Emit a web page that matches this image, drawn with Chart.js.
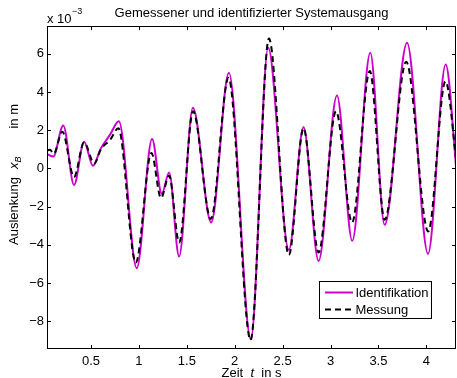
<!DOCTYPE html>
<html><head><meta charset="utf-8">
<script src="https://cdn.jsdelivr.net/npm/chart.js@4"></script>
<style>html,body{margin:0;padding:0;background:#fff;overflow:hidden}</style>
</head><body>
<canvas id="c" width="457" height="378"></canvas>
<script>
// ---- data (values in 1e-3 m) ----
const identT = [0.04,0.105,0.21,0.322,0.427,0.52,0.6,0.7,0.79,0.977,1.137,1.238,1.315,1.419,1.563,1.754,1.939,2.168,2.349,2.565,2.718,2.875,3.067,3.227,3.415,3.565,3.799,4.018,4.202,4.32];
const identV = [0.75,0.62,2.25,-0.87,1.40,0.14,1.02,1.78,2.47,-5.22,1.54,-1.33,-0.21,-4.61,3.17,-2.83,5.0,-8.95,6.31,-4.26,2.15,-4.84,3.81,-3.79,6.05,-2.95,6.58,-4.47,5.44,-0.42];
const messT = [0.04,0.07,0.11,0.2,0.322,0.427,0.534,0.6,0.7,0.785,0.967,1.13,1.23,1.315,1.42,1.565,1.75,1.935,2.165,2.357,2.565,2.718,2.875,3.057,3.225,3.41,3.565,3.79,4.02,4.2,4.32];
const messV = [0.94,0.97,0.77,1.92,-0.45,1.36,0.25,0.98,1.5,2.1,-4.93,0.81,-1.55,-0.38,-3.88,2.99,-2.65,4.74,-8.98,6.79,-4.53,2.1,-4.40,2.99,-2.83,5.09,-2.69,5.58,-3.30,4.56,0.1];
const xTickValues = [0.5,1,1.5,2,2.5,3,3.5,4];
const yTickValues = [-8,-6,-4,-2,0,2,4,6];
const seriesNames = ['Identifikation','Messung'];
const titleText = 'Gemessener und identifizierter Systemausgang';

const FONT = "'Liberation Sans', Arial, Helvetica, sans-serif";
Chart.defaults.font.family = FONT;
Chart.defaults.font.size = 13;
Chart.defaults.color = '#000';

const toPts = (t, v) => t.map((x, i) => ({x: x, y: v[i]}));
const fmt = v => { const r = Math.round(v * 10) / 10; return r < 0 ? '\u2212' + (-r) : String(r); };

const decor = {
  id: 'decor',
  afterDatasetsDraw(chart) {
    const ctx = chart.ctx, a = chart.chartArea;
    const xs = chart.scales.x, ys = chart.scales.y;
    ctx.save();
    ctx.strokeStyle = '#000';
    ctx.lineWidth = 1;
    ctx.strokeRect(a.left + 0.5, a.top + 0.5, a.right - a.left - 1, a.bottom - a.top - 1);
    ctx.beginPath();
    const tl = 4;
    xTickValues.forEach(v => {
      const px = Math.round(xs.getPixelForValue(v)) + 0.5;
      ctx.moveTo(px, a.bottom); ctx.lineTo(px, a.bottom - tl);
      ctx.moveTo(px, a.top); ctx.lineTo(px, a.top + tl);
    });
    yTickValues.forEach(v => {
      const py = Math.round(ys.getPixelForValue(v)) + 0.5;
      ctx.moveTo(a.left, py); ctx.lineTo(a.left + tl, py);
      ctx.moveTo(a.right, py); ctx.lineTo(a.right - tl, py);
    });
    ctx.stroke();

    // legend
    const lx = 319.5, ly = 281.5, lw = 112, lh = 37;
    ctx.fillStyle = '#fff';
    ctx.fillRect(lx, ly, lw, lh);
    ctx.strokeRect(lx, ly, lw, lh);
    ctx.lineWidth = 2;
    ctx.strokeStyle = '#CC00CC';
    ctx.beginPath(); ctx.moveTo(325, 292.5); ctx.lineTo(353, 292.5); ctx.stroke();
    ctx.strokeStyle = '#000';
    ctx.setLineDash([6, 4]);
    ctx.beginPath(); ctx.moveTo(325, 309.5); ctx.lineTo(353, 309.5); ctx.stroke();
    ctx.setLineDash([]);
    ctx.fillStyle = '#000';
    ctx.font = '13px ' + FONT;
    ctx.textAlign = 'left';
    ctx.textBaseline = 'alphabetic';
    ctx.fillText(seriesNames[0], 355.5, 297);
    ctx.fillText(seriesNames[1], 355.5, 314);
    ctx.restore();
  },
  afterDraw(chart) {
    const ctx = chart.ctx, a = chart.chartArea;
    ctx.save();
    ctx.fillStyle = '#000';
    ctx.textBaseline = 'alphabetic';
    // title
    ctx.font = '13px ' + FONT;
    ctx.textAlign = 'center';
    ctx.fillText(titleText, (a.left + a.right) / 2, 17);
    // exponent
    ctx.textAlign = 'left';
    ctx.fillText('x 10', a.left, 22.5);
    const w10 = ctx.measureText('x 10').width;
    ctx.font = '9px ' + FONT;
    ctx.fillText('\u22123', a.left + w10 + 0.5, 14);

    // x title
    const parts = [['Zeit  ', ''], ['t', 'italic '], ['  in s', '']];
    let total = 0;
    parts.forEach(p => { ctx.font = p[1] + '13px ' + FONT; total += ctx.measureText(p[0]).width; });
    let x = (a.left + a.right) / 2 - total / 2;
    parts.forEach(p => { ctx.font = p[1] + '13px ' + FONT; ctx.fillText(p[0], x, 377); x += ctx.measureText(p[0]).width; });

    // y title (rotated): [text, style, size, baseline shift, gap after]
    ctx.translate(17.5, 174.5);
    ctx.rotate(-Math.PI / 2);
    const yp = [['Auslenkung', '', 13, 0, 8], ['x', 'italic ', 13, 0, 0], ['B', 'italic ', 9, 3, 28], ['in m', '', 13, 0, 0]];
    total = 0;
    yp.forEach(p => { ctx.font = p[1] + p[2] + 'px ' + FONT; total += ctx.measureText(p[0]).width + p[4]; });
    x = -total / 2;
    yp.forEach(p => { ctx.font = p[1] + p[2] + 'px ' + FONT; ctx.fillText(p[0], x, p[3]); x += ctx.measureText(p[0]).width + p[4]; });
    ctx.restore();
  }
};

new Chart(document.getElementById('c'), {
  type: 'line',
  data: {
    datasets: [
      { label: seriesNames[1], data: toPts(messT, messV), borderColor: '#000', borderWidth: 2, borderDash: [6, 4],
        pointRadius: 0, fill: false, cubicInterpolationMode: 'monotone', clip: 0 },
      { label: seriesNames[0], data: toPts(identT, identV), borderColor: '#CC00CC', borderWidth: 2,
        pointRadius: 0, fill: false, cubicInterpolationMode: 'monotone', clip: 0 }
    ]
  },
  options: {
    responsive: false,
    animation: false,
    devicePixelRatio: 1,
    layout: { padding: { top: 26, right: 1, left: 0, bottom: 0 } },
    plugins: { legend: { display: false }, title: { display: false }, tooltip: { enabled: false } },
    scales: {
      x: {
        type: 'linear', min: 0.04, max: 4.31,
        grid: { display: false, drawTicks: false }, border: { display: false },
        ticks: { stepSize: 0.5, includeBounds: false, padding: 5, maxRotation: 0, autoSkip: false, callback: v => fmt(v) },
        afterFit: s => { s.height = 29; }
      },
      y: {
        type: 'linear', min: -9.45, max: 7.45,
        grid: { display: false, drawTicks: false }, border: { display: false },
        ticks: { stepSize: 2, includeBounds: false, padding: 3, autoSkip: false, callback: v => fmt(v) },
        afterFit: s => { s.width = 47; }
      }
    }
  },
  plugins: [decor]
});
</script>
</body></html>
